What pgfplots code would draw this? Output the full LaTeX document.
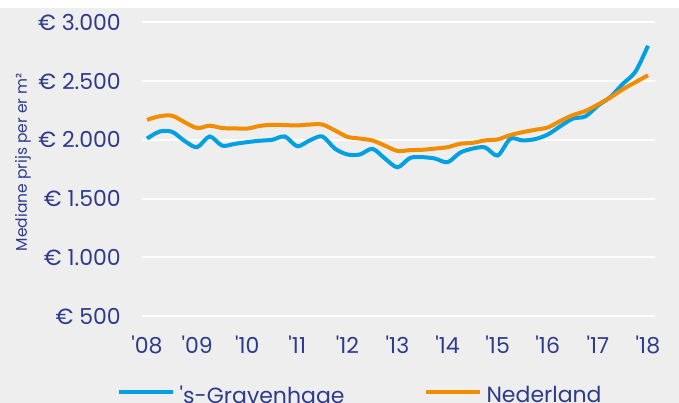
\documentclass[border=0pt]{standalone}
\usepackage{pgfplots}
\pgfplotsset{compat=1.18}
\usepackage{fontspec}
\setmainfont{Poppins}
\definecolor{bgc}{HTML}{EEEEEE}
\definecolor{navy}{HTML}{2E3B8C}
\definecolor{cblue}{HTML}{00A0E2}
\definecolor{corange}{HTML}{F28C00}
\pgfplotstableread{
x y
2008.00 2010
2008.25 2070
2008.50 2068
2008.75 1990
2009.00 1937
2009.25 2028
2009.50 1950
2009.75 1965
2010.00 1980
2010.25 1992
2010.50 2000
2010.75 2028
2011.00 1945
2011.25 1995
2011.50 2028
2011.75 1925
2012.00 1875
2012.25 1875
2012.50 1923
2012.75 1840
2013.00 1766
2013.25 1845
2013.50 1852
2013.75 1840
2014.00 1809
2014.25 1890
2014.50 1925
2014.75 1935
2015.00 1866
2015.25 2008
2015.50 1994
2015.75 2006
2016.00 2045
2016.25 2115
2016.50 2180
2016.75 2199
2017.00 2290
2017.25 2365
2017.50 2477
2017.75 2580
2018.00 2800
}\denhaag
\pgfplotstableread{
x y
2008.00 2170
2008.25 2200
2008.50 2205
2008.75 2150
2009.00 2100
2009.25 2120
2009.50 2100
2009.75 2097
2010.00 2095
2010.25 2118
2010.50 2127
2010.75 2125
2011.00 2122
2011.25 2130
2011.50 2130
2011.75 2080
2012.00 2025
2012.25 2010
2012.50 1994
2012.75 1950
2013.00 1905
2013.25 1912
2013.50 1915
2013.75 1925
2014.00 1937
2014.25 1966
2014.50 1974
2014.75 1995
2015.00 2003
2015.25 2040
2015.50 2065
2015.75 2085
2016.00 2105
2016.25 2160
2016.50 2210
2016.75 2245
2017.00 2300
2017.25 2360
2017.50 2430
2017.75 2490
2018.00 2549
}\nederland
\begin{document}
\begin{tikzpicture}
\useasboundingbox (-142bp,-87bp) rectangle (537bp,316bp);
\fill[white] (-142bp,-87bp) rectangle (537bp,316bp);
\fill[bgc] (-142bp,-87bp) rectangle (537bp,308bp);
\begin{axis}[
  at={(0,0)}, anchor=south west,
  scale only axis, width=513bp, height=293.7bp,
  xmin=2007.9, xmax=2018.14, ymin=500, ymax=3000,
  axis line style={draw=none}, tick style={draw=none},
  ymajorgrids, grid style={white, line width=2bp},
  ytick={500,1000,...,3000},
  yticklabels={€ 500,€ 1.000,€ 1.500,€ 2.000,€ 2.500,€ 3.000},
  xtick={2008,...,2018},
  xticklabels={\textquotesingle08,\textquotesingle09,\textquotesingle10,\textquotesingle11,\textquotesingle12,\textquotesingle13,\textquotesingle14,\textquotesingle15,\textquotesingle16,\textquotesingle17,\textquotesingle18},
  ticklabel style={font=\fontsize{22bp}{26bp}\selectfont, text=navy, inner sep=0pt},
  yticklabel style={anchor=east, xshift=-21bp},
  xticklabel style={anchor=north, yshift=-20bp},
  ylabel={Mediane prijs per er m²},
  ylabel style={at={(axis description cs:-0.232,0.524)}, anchor=center, font=\fontsize{15.5bp}{18bp}\selectfont, text=navy},
  legend columns=2,
  legend image code/.code={\draw[#1] (0bp,3.6bp) -- (54bp,3.6bp);},
  legend style={at={(axis description cs:-0.0493,-0.3030)}, anchor=south west,
    draw=none, fill=none, inner sep=0pt, outer sep=0pt,
    font=\fontsize{22bp}{26bp}\selectfont, text=navy,
    nodes={inner sep=0pt},
    /tikz/every odd column/.append style={column sep=5bp},
    /tikz/every even column/.append style={column sep=79bp}},
  legend cell align=left,
]
\addplot[cblue, line width=4bp, smooth, tension=0.5] table {\denhaag};
\addlegendentry{\textquotesingle s-Gravenhage}
\addplot[corange, line width=4bp, smooth, tension=0.5] table {\nederland};
\addlegendentry{Nederland}
\end{axis}
\end{tikzpicture}
\end{document}
